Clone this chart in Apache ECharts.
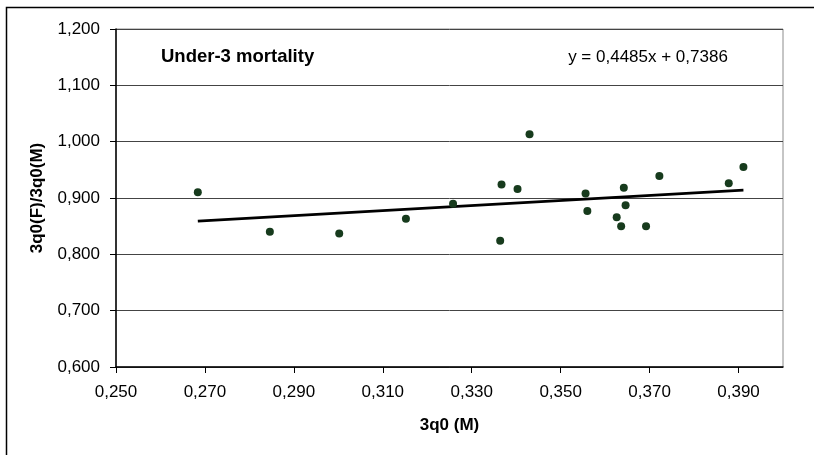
<!DOCTYPE html>
<html>
<head>
<meta charset="utf-8">
<script src="https://cdn.jsdelivr.net/npm/echarts@6/dist/echarts.min.js"></script>
<style>
  html, body { margin: 0; padding: 0; background: #fff; }
  #chart { width: 814px; height: 455px; }
</style>
</head>
<body>
<div id="chart"></div>
<script>
// Male under-3 mortality, 3q0(M)
const maleMortality = [0.2684, 0.2846, 0.3002, 0.3152, 0.3258, 0.3367, 0.3403, 0.3430, 0.3364, 0.3556,
                       0.3560, 0.3642, 0.3646, 0.3626, 0.3636, 0.3692, 0.3722, 0.3878, 0.3911];
// Female-to-male ratio, 3q0(F)/3q0(M)
const sexRatio = [0.910, 0.840, 0.837, 0.863, 0.890, 0.924, 0.916, 1.013, 0.824, 0.908,
                  0.877, 0.918, 0.887, 0.866, 0.850, 0.850, 0.939, 0.926, 0.955];
// Linear trend: y = slope * x + intercept
const trendSlope = 0.4485;
const trendIntercept = 0.7386;

const chartTitle = 'Under-3 mortality';
const xAxisTitle = '3q0 (M)';
const yAxisTitle = '3q0(F)/3q0(M)';

const fmt = v => v.toFixed(4).replace('.', ',');
const equationText = 'y = ' + fmt(trendSlope) + 'x + ' + fmt(trendIntercept);

const points = maleMortality.map((x, i) => [x, sexRatio[i]]);
const xMin = Math.min(...maleMortality);
const xMax = Math.max(...maleMortality);
const trendPoints = [xMin, xMax].map(x => [x, trendSlope * x + trendIntercept]);

const tickFmt = v => v.toFixed(3).replace('.', ',');
const FONT = '"Liberation Sans", Arial, sans-serif';

const chart = echarts.init(document.getElementById('chart'), null, { renderer: 'canvas' });
chart.setOption({
  animation: false,
  backgroundColor: '#ffffff',
  grid: {
    left: 116, top: 29, width: 667, height: 338,
    show: true, borderColor: '#8c8c8c', borderWidth: 1, backgroundColor: 'transparent'
  },
  xAxis: {
    type: 'value',
    min: 0.25, max: 0.40, interval: 0.02,
    name: xAxisTitle, nameLocation: 'middle', nameGap: 50,
    nameTextStyle: { fontFamily: FONT, fontWeight: 'bold', fontSize: 17, color: '#000' },
    axisLine: { show: true, onZero: false, lineStyle: { color: '#000', width: 1.5 } },
    axisTick: { show: true, inside: false, length: 6, lineStyle: { color: '#000' } },
    axisLabel: {
      margin: 17, fontFamily: FONT, fontSize: 17, color: '#000',
      showMaxLabel: false, formatter: tickFmt
    },
    splitLine: { show: false }
  },
  yAxis: {
    type: 'value',
    min: 0.6, max: 1.2, interval: 0.1,
    name: yAxisTitle, nameLocation: 'middle', nameGap: 70, nameRotate: 90,
    nameTextStyle: { fontFamily: FONT, fontWeight: 'bold', fontSize: 17, color: '#000' },
    axisLine: { show: true, onZero: false, lineStyle: { color: '#000', width: 1.5 } },
    axisTick: { show: true, inside: false, length: 6, lineStyle: { color: '#000' } },
    axisLabel: { margin: 16, fontFamily: FONT, fontSize: 17, color: '#000', formatter: tickFmt },
    splitLine: { show: true, lineStyle: { color: '#444', width: 1 } }
  },
  series: [
    {
      type: 'scatter',
      data: points,
      symbol: 'circle',
      symbolSize: 8,
      itemStyle: { color: '#173b1d', opacity: 1 },
      z: 3
    },
    {
      type: 'line',
      data: trendPoints,
      showSymbol: false,
      symbol: 'none',
      lineStyle: { color: '#000', width: 2.6 },
      z: 2
    }
  ],
  graphic: [
    {
      type: 'rect',
      shape: { x: 6.5, y: 7.5, width: 900, height: 600 },
      style: { fill: 'none', stroke: '#000', lineWidth: 1.5 },
      silent: true
    },
    {
      type: 'text',
      x: 161, y: 57,
      style: {
        text: chartTitle, fill: '#000',
        font: 'bold 18.5px ' + FONT,
        align: 'left', verticalAlign: 'middle'
      }
    },
    {
      type: 'text',
      x: 648, y: 57,
      style: {
        text: equationText, fill: '#000',
        font: '17px ' + FONT,
        align: 'center', verticalAlign: 'middle'
      }
    }
  ]
});
</script>
</body>
</html>
